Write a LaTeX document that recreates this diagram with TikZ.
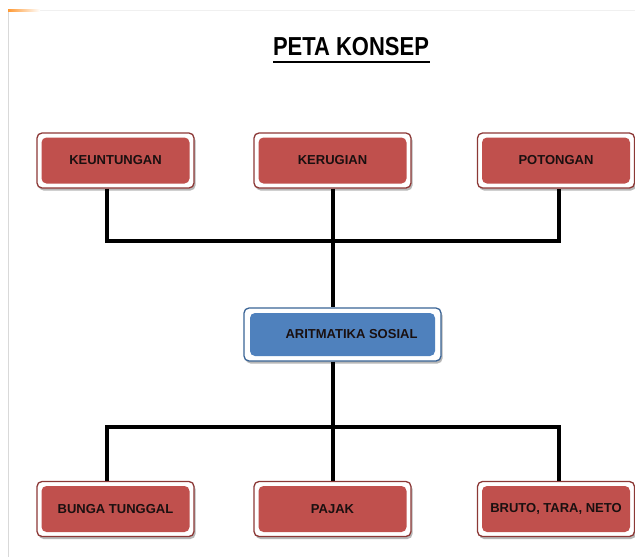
\documentclass[tikz,border=0pt]{standalone}
\usepackage{fontspec}
\setmainfont{Liberation Sans}
\usetikzlibrary{shadows}
\definecolor{boxred}{HTML}{C0504D}
\definecolor{rededge}{HTML}{8C3836}
\definecolor{boxblue}{HTML}{4F81BD}
\definecolor{blueedge}{HTML}{3A6496}
\definecolor{txt}{HTML}{1A1010}
\tikzset{
  frame/.style={rounded corners=5pt, fill=white, line width=1.3pt, inner sep=0pt,
    drop shadow={shadow xshift=1.5pt, shadow yshift=-2.5pt, opacity=0.4, fill=black!70},
    font=\bfseries\fontsize{13}{15}\selectfont, text=txt},
  redbox/.style={frame, draw=rededge, minimum width=157pt, minimum height=55pt,
    path picture={\fill[boxred] ([shift={(4.5pt,4.5pt)}]path picture bounding box.south west) rectangle ([shift={(-4.5pt,-4.5pt)}]path picture bounding box.north east);}},
  bluebox/.style={frame, draw=blueedge, minimum width=197pt, minimum height=53pt,
    path picture={\fill[boxblue] ([shift={(6pt,5pt)}]path picture bounding box.south west) rectangle ([shift={(-6pt,-5pt)}]path picture bounding box.north east);}},
  conn/.style={line width=3.4pt, black}
}
\begin{document}
\begin{tikzpicture}[x=1pt,y=-1pt]
\useasboundingbox (0,0) rectangle (635,557);
\fill[white] (0,0) rectangle (635,557);
% faint page frame
\draw[black!15, line width=0.8pt] (8,10) -- (8,557);
\draw[black!6, line width=0.8pt] (8,10) -- (635,10);
\shade[left color=orange!80, right color=white] (8,9) rectangle (40,11);
% title
\node[font=\bfseries\fontsize{26}{30}\selectfont, inner sep=0pt, xscale=0.845] (title) at (351,47) {PETA KONSEP};
\draw[line width=2pt] (273,61.5) -- (430,61.5);
% top row
\node[redbox] (k1) at (115.5,160.5) {KEUNTUNGAN};
\node[redbox] (k2) at (332.5,160.5) {KERUGIAN};
\node[redbox] (k3) at (556,160.5) {POTONGAN};
% center
\node[bluebox] (as) at (342.5,334.5) {\hspace*{18pt}ARITMATIKA SOSIAL};
% bottom row
\node[redbox] (b1) at (115.5,509) {BUNGA TUNGGAL};
\node[redbox] (b2) at (332.5,509) {PAJAK};
\node[redbox] (b3) at (556,509) {BRUTO, TARA, NETO};
% junction coordinates
\coordinate (tl) at (107,241);
\coordinate (tm) at (333,241);
\coordinate (tr) at (559,241);
\coordinate (bl) at (107,427);
\coordinate (bm) at (333,427);
\coordinate (br) at (559,427);
% connectors
\draw[conn] (k1.south -| tl) -- (tl) -- (tr) -- (k3.south -| tr);
\draw[conn] (k2.south -| tm) -- (as.north -| tm);
\draw[conn] (as.south -| bm) -- (b2.north -| bm);
\draw[conn] (b1.north -| bl) -- (bl) -- (br) -- (b3.north -| br);
\end{tikzpicture}
\end{document}
